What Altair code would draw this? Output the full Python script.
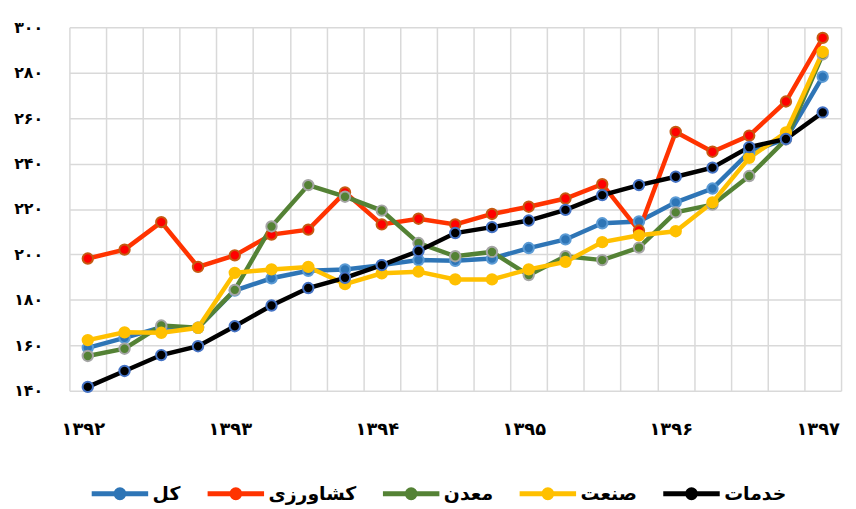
import altair as alt
import pandas as pd

# ---- data ----
quarters = [
    "1392-1", "1392-2", "1392-3", "1392-4",
    "1393-1", "1393-2", "1393-3", "1393-4",
    "1394-1", "1394-2", "1394-3", "1394-4",
    "1395-1", "1395-2", "1395-3", "1395-4",
    "1396-1", "1396-2", "1396-3", "1396-4",
    "1397-1",
]
year_ticks = ["1392-1", "1393-1", "1394-1", "1395-1", "1396-1", "1397-1"]
year_labels = ["۱۳۹۲", "۱۳۹۳", "۱۳۹۴", "۱۳۹۵", "۱۳۹۶", "۱۳۹۷"]
y_ticks = [140, 160, 180, 200, 220, 240, 260, 280, 300]
y_labels = ["۱۴۰", "۱۶۰", "۱۸۰", "۲۰۰", "۲۲۰", "۲۴۰", "۲۶۰", "۲۸۰", "۳۰۰"]

series = ["کل", "کشاورزی", "معدن", "صنعت", "خدمات"]

kol = [158.9, 163.3, 167.9, 167.7, 184.1, 189.5, 192.8, 193.4, 195.3, 197.5, 197.2,
       198.2, 202.8, 206.6, 213.7, 214.5, 222.9, 229.0, 245.0, 250.8, 278.2]
keshavarzi = [198.2, 202.1, 214.2, 194.5, 199.6, 208.7, 210.9, 227.3, 213.2, 215.7, 213.2,
              217.8, 221.0, 224.6, 230.9, 210.5, 253.9, 245.2, 252.3, 267.3, 295.3]
madan = [155.3, 158.5, 168.7, 167.7, 184.4, 212.3, 230.5, 225.4, 219.3, 205.0, 199.2,
         201.1, 190.9, 199.2, 197.5, 203.0, 218.5, 221.9, 234.5, 250.6, 288.0]
sanat = [162.3, 165.7, 165.5, 167.7, 191.9, 193.4, 194.5, 186.9, 191.7, 192.4, 189.0,
         189.0, 193.4, 196.7, 205.4, 208.4, 210.2, 222.9, 242.5, 253.7, 289.1]
khadamat = [141.7, 148.7, 155.7, 159.6, 168.4, 177.5, 185.2, 189.7, 195.3, 201.5, 209.4,
            212.0, 214.9, 219.6, 226.1, 230.5, 234.2, 238.2, 247.2, 250.8, 262.5]

line_colors = ["#2E75B6", "#FF3300", "#548235", "#FFC000", "#000000"]
point_fills = ["#2E75B6", "#FF0000", "#548235", "#FFC000", "#000000"]
point_rings = ["#5B9BD5", "#C55A11", "#A5A5A5", "#FFC000", "#4472C4"]

values = [kol, keshavarzi, madan, sanat, khadamat]
rows = []
for s, vals in zip(series, values):
    for q, v in zip(quarters, vals):
        rows.append({"q": q, "s": s, "v": v})
df = pd.DataFrame(rows)

FONT = "DejaVu Sans"

x_expr = "".join(f"datum.value == '{t}' ? '{l}' : " for t, l in zip(year_ticks, year_labels)) + "''"
y_expr = "".join(f"datum.value == {t} ? '{l}' : " for t, l in zip(y_ticks, y_labels)) + "''"

x_enc = alt.X(
    "q:O",
    sort=quarters,
    bandPosition=0.5,
    scale=alt.Scale(type="band", domain=quarters, paddingInner=0, paddingOuter=0),
    axis=alt.Axis(
        title=None,
        tickBand="extent",
        grid=True,
        gridColor="#D9D9D9",
        gridWidth=1.5,
        ticks=False,
        domain=False,
        labelAngle=0,
        labelExpr=x_expr,
        labelFont=FONT,
        labelFontSize=18,
        labelFontWeight="bold",
        labelColor="#000000",
        labelPadding=30,
        labelOffset=-5,
    ),
)
y_enc = alt.Y(
    "v:Q",
    scale=alt.Scale(domain=[140, 300], nice=False, zero=False),
    axis=alt.Axis(
        title=None,
        values=y_ticks,
        labelExpr=y_expr,
        grid=True,
        gridColor="#D9D9D9",
        gridWidth=1.5,
        ticks=False,
        domain=False,
        labelFont=FONT,
        labelFontSize=16,
        labelFontWeight="bold",
        labelColor="#000000",
        labelPadding=27,
    ),
)

legend_path = "M-1,0L1,0M0.14,0A0.14,0.14,0,1,1,-0.14,0A0.14,0.14,0,1,1,0.14,0Z"
legend = alt.Legend(
    title=None,
    orient="none",
    legendX=20,
    legendY=440,
    direction="horizontal",
    symbolType=legend_path,
    symbolSize=3249,
    symbolStrokeWidth=5,
    symbolOpacity=1,
    labelFont=FONT,
    labelFontSize=19,
    labelFontWeight="bold",
    labelColor="#000000",
    labelOffset=2,
    columnPadding=16,
)

lines = alt.Chart(df).mark_line(strokeWidth=4.5).encode(
    x=x_enc,
    y=y_enc,
    color=alt.Color("s:N", sort=series,
                    scale=alt.Scale(domain=series, range=line_colors), legend=legend),
    order=alt.value(0),
)
points = alt.Chart(df).mark_point(filled=True, size=110, opacity=1, strokeWidth=2).encode(
    x=x_enc,
    y=y_enc,
    fill=alt.Fill("s:N", sort=series,
                  scale=alt.Scale(domain=series, range=point_fills), legend=legend),
    stroke=alt.Stroke("s:N", sort=series,
                      scale=alt.Scale(domain=series, range=point_rings), legend=None),
)

chart = alt.layer(lines, points).properties(
    width=779,
    height=367,
    autosize=alt.AutoSizeParams(type="none"),
    padding={"left": 62, "top": 17, "right": 7, "bottom": 117},
).configure_view(stroke=None)

chart.save("out.html", embed_options={"renderer": "svg", "actions": False})
